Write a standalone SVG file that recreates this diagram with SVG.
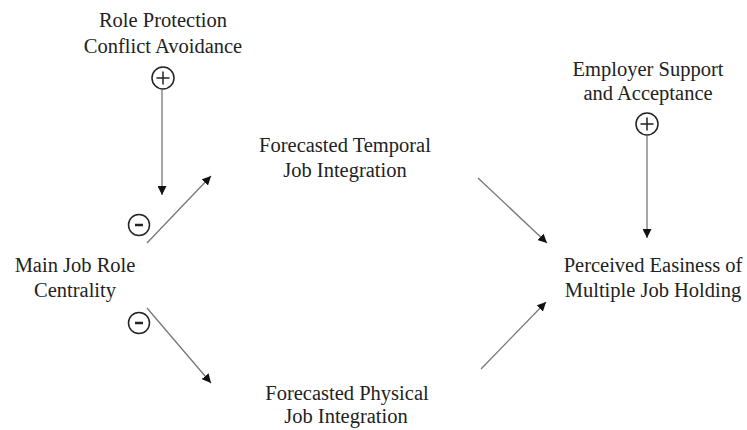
<svg xmlns="http://www.w3.org/2000/svg" width="747" height="430" viewBox="0 0 747 430">
<defs>
<style>
text{font-family:"Liberation Serif","Times New Roman",serif;font-size:20.5px;fill:#222;text-anchor:middle}
.c{fill:none;stroke:#777;stroke-width:1.3}
.sym{fill:none;stroke:#222;stroke-width:1.5}
</style>
<marker id="ah" viewBox="0 0 10 10" refX="10" refY="5" markerWidth="9" markerHeight="9" markerUnits="userSpaceOnUse" orient="auto">
<path d="M0,0 L10,5 L0,10 z" fill="#111"/>
</marker>
</defs>
<rect width="747" height="430" fill="#fff"/>
<g id="connectors">
<line class="c" x1="162" y1="90" x2="162" y2="195" marker-end="url(#ah)"/>
<line class="c" x1="147" y1="243" x2="211" y2="176" marker-end="url(#ah)"/>
<line class="c" x1="147" y1="308" x2="211" y2="383" marker-end="url(#ah)"/>
<line class="c" x1="478" y1="178" x2="547" y2="243" marker-end="url(#ah)"/>
<line class="c" x1="481" y1="369" x2="546" y2="302" marker-end="url(#ah)"/>
<line class="c" x1="647" y1="136" x2="647" y2="238" marker-end="url(#ah)"/>
</g>
<g id="role-protection">
<text x="163" y="27">Role Protection</text>
<text x="163" y="53">Conflict Avoidance</text>
</g>
<g id="sign-plus-role">
<circle class="sym" cx="163" cy="78" r="11"/>
<path class="sym" d="M156.5,78 H169.5 M163,71.5 V84.5"/>
</g>
<g id="employer-support">
<text x="648" y="76">Employer Support</text>
<text x="648" y="100">and Acceptance</text>
</g>
<g id="sign-plus-employer">
<circle class="sym" cx="647" cy="124" r="11"/>
<path class="sym" d="M640.5,124 H653.5 M647,117.5 V130.5"/>
</g>
<g id="temporal">
<text x="345" y="152">Forecasted Temporal</text>
<text x="345" y="177">Job Integration</text>
</g>
<g id="main-job">
<text x="75" y="272">Main Job Role</text>
<text x="75" y="297">Centrality</text>
</g>
<g id="sign-minus-top">
<circle class="sym" cx="139" cy="225" r="10.5"/>
<path d="M135,225 H143" stroke="#222" stroke-width="2.5"/>
</g>
<g id="sign-minus-bottom">
<circle class="sym" cx="139" cy="323" r="10.5"/>
<path d="M135,323 H143" stroke="#222" stroke-width="2.5"/>
</g>
<g id="perceived">
<text x="653" y="272">Perceived Easiness of</text>
<text x="653" y="297">Multiple Job Holding</text>
</g>
<g id="physical">
<text x="347" y="400">Forecasted Physical</text>
<text x="346" y="423">Job Integration</text>
</g>
</svg>
